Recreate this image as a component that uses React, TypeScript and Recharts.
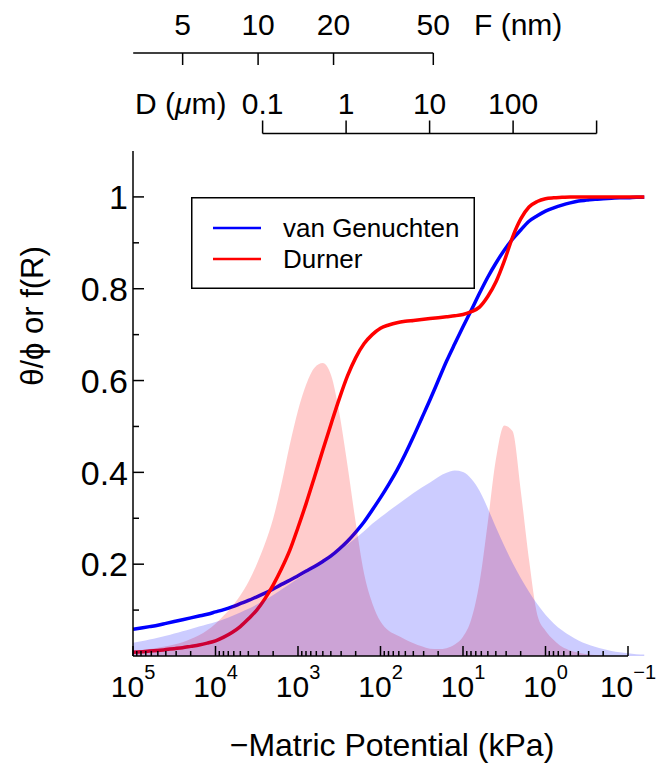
import React from 'react';
import { ComposedChart, Line, Area, XAxis, YAxis, ReferenceLine, Legend } from 'recharts';

const FONT = '"Liberation Sans", Arial, Helvetica, sans-serif';

// sample points: log10 of -matric potential (kPa)
const logPsi = [
  5, 4.9, 4.8, 4.7, 4.6, 4.5, 4.4, 4.3, 4.2, 4.1,
  4, 3.9, 3.8, 3.7, 3.6, 3.5, 3.4, 3.3, 3.2, 3.1,
  3, 2.9, 2.8, 2.7, 2.6, 2.5, 2.4, 2.3, 2.2, 2.1,
  2, 1.9, 1.8, 1.7, 1.6, 1.5, 1.4, 1.3, 1.2, 1.1,
  1, 0.9, 0.8, 0.7, 0.6, 0.5, 0.4, 0.3, 0.2, 0.1,
  0, -0.1, -0.2, -0.3, -0.4, -0.5, -0.6, -0.7, -0.8, -0.9,
  -1, -1.1, -1.2,
];

// retention curves theta/phi
const vgTheta = [
  0.058, 0.061, 0.064, 0.067, 0.071, 0.075, 0.079, 0.083, 0.087, 0.091,
  0.096, 0.101, 0.107, 0.114, 0.121, 0.129, 0.137, 0.146, 0.156, 0.165,
  0.175, 0.185, 0.195, 0.206, 0.218, 0.233, 0.25, 0.27, 0.292, 0.318,
  0.345, 0.374, 0.405, 0.44, 0.478, 0.518, 0.558, 0.6, 0.642, 0.68,
  0.717, 0.753, 0.79, 0.825, 0.856, 0.884, 0.908, 0.928, 0.947, 0.959,
  0.969, 0.976, 0.982, 0.987, 0.991, 0.993, 0.995, 0.996, 0.997, 0.998,
  0.998, 0.999, 0.999,
];
const durnerTheta = [
  0.008, 0.009, 0.011, 0.012, 0.014, 0.016, 0.018, 0.021, 0.024, 0.028,
  0.033, 0.041, 0.051, 0.064, 0.081, 0.1, 0.125, 0.155, 0.19, 0.23,
  0.28, 0.333, 0.39, 0.448, 0.505, 0.56, 0.61, 0.65, 0.68, 0.7,
  0.714, 0.721, 0.726, 0.729, 0.731, 0.733, 0.735, 0.737, 0.739, 0.741,
  0.744, 0.75, 0.76, 0.783, 0.815, 0.86, 0.912, 0.952, 0.978, 0.99,
  0.996, 0.998, 0.999, 1, 1, 1, 1, 1, 1, 1,
  1, 1, 1,
];

// pore size distributions f(R)
const vgPsd = [
  0.029, 0.032, 0.036, 0.04, 0.044, 0.049, 0.054, 0.059, 0.064, 0.069,
  0.074, 0.08, 0.087, 0.095, 0.103, 0.112, 0.122, 0.133, 0.145, 0.157,
  0.169, 0.181, 0.193, 0.205, 0.217, 0.23, 0.243, 0.257, 0.272, 0.288,
  0.302, 0.316, 0.329, 0.342, 0.355, 0.367, 0.378, 0.39, 0.399, 0.404,
  0.401, 0.386, 0.36, 0.322, 0.28, 0.24, 0.203, 0.17, 0.14, 0.113,
  0.09, 0.071, 0.056, 0.044, 0.034, 0.026, 0.02, 0.015, 0.011, 0.008,
  0.006, 0.004, 0.003,
];
const durnerPsd = [
  0.011, 0.013, 0.015, 0.018, 0.021, 0.025, 0.03, 0.037, 0.045, 0.056,
  0.07, 0.088, 0.108, 0.132, 0.162, 0.2, 0.245, 0.3, 0.375, 0.46,
  0.535, 0.592, 0.628, 0.638, 0.612, 0.53, 0.415, 0.29, 0.18, 0.115,
  0.075, 0.055, 0.045, 0.036, 0.028, 0.021, 0.016, 0.015, 0.017, 0.025,
  0.042, 0.08, 0.16, 0.29, 0.43, 0.502, 0.49, 0.36, 0.21, 0.09,
  0.055, 0.035, 0.02, 0.012, 0.007, 0.004, 0.002, 0.001, 0, 0,
  0, 0, 0,
];

const seriesNames = ['van Genuchten', 'Durner'];
const xMajor = [1e5, 1e4, 1e3, 1e2, 1e1, 1, 0.1];
const xExp = ['5', '4', '3', '2', '1', '0', '\u22121'];
const yMajor = [0.2, 0.4, 0.6, 0.8, 1];
const yLabels = ['0.2', '0.4', '0.6', '0.8', '1'];
const yMinor = [0.1, 0.3, 0.5, 0.7, 0.9];
const fTicks = [5, 10, 20, 50];
const dTicks = [0.1, 1, 10, 100, 1000];
const dLabels = ['0.1', '1', '10', '100', ''];

const data = logPsi.map((e, i) => ({
  psi: Math.pow(10, e),
  vg: vgTheta[i],
  durner: durnerTheta[i],
  vgPsd: vgPsd[i],
  durnerPsd: durnerPsd[i],
}));
const xMinor = xMajor.slice(1).flatMap((m) => [2, 3, 4, 5, 6, 7, 8, 9].map((k) => k * m));
const yTicks = [...yMinor, ...yMajor].sort((a, b) => a - b);

const XTick = (props: any) => {
  const { x, y, payload } = props;
  const i = xMajor.indexOf(payload.value);
  return (
    <g>
      <line x1={x} x2={x} y1={y} y2={y - (i >= 0 ? 10 : 5)} stroke="#000" strokeWidth={1.5} />
      {i >= 0 && (
        <text x={x} y={y + 41} textAnchor="middle" fontSize={30} fontFamily={FONT} fill="#000">
          10<tspan dy={-18} fontSize={20}>{xExp[i]}</tspan>
        </text>
      )}
    </g>
  );
};

const YTick = (props: any) => {
  const { x, y, payload } = props;
  const i = yMajor.indexOf(payload.value);
  return (
    <g>
      <line x1={x} x2={x + (i >= 0 ? 11 : 6)} y1={y} y2={y} stroke="#000" strokeWidth={1.5} />
      {i >= 0 && (
        <text x={x - 5} y={y} dy="0.36em" textAnchor="end" fontSize={34} fontFamily={FONT} fill="#000">
          {yLabels[i]}
        </text>
      )}
    </g>
  );
};

const FTick = (props: any) => {
  const { x, y, payload } = props;
  return (
    <g>
      <line x1={x} x2={x} y1={y} y2={y + 12} stroke="#000" strokeWidth={1.5} />
      <text x={x} y={y - 18} textAnchor="middle" fontSize={30} fontFamily={FONT} fill="#000">
        {payload.value}
      </text>
    </g>
  );
};

const DTick = (props: any) => {
  const { x, y, payload } = props;
  const i = dTicks.indexOf(payload.value);
  return (
    <g>
      <line x1={x} x2={x} y1={y} y2={y - 13} stroke="#000" strokeWidth={1.5} />
      <text x={x} y={y - 20} textAnchor="middle" fontSize={30} fontFamily={FONT} fill="#000">
        {dLabels[i]}
      </text>
    </g>
  );
};

const LegendBox = (props: any) => {
  const items = (props.payload || [])
    .filter((p: any) => seriesNames.includes(p.value))
    .sort((a: any, b: any) => seriesNames.indexOf(a.value) - seriesNames.indexOf(b.value));
  return (
    <svg width={284} height={92} style={{ display: 'block' }}>
      <rect x={0.75} y={0.75} width={282.5} height={90.5} fill="#fff" stroke="#000" strokeWidth={1.5} />
      {items.map((e: any, i: number) => (
        <g key={e.value}>
          <line x1={22} x2={70} y1={31 + i * 31} y2={31 + i * 31} stroke={e.color} strokeWidth={2.5} />
          <text x={92} y={31 + i * 31} dy="0.35em" fontSize={26} fontFamily={FONT} fill="#000">
            {e.value}
          </text>
        </g>
      ))}
    </svg>
  );
};

export default function App() {
  return (
    <div style={{ position: 'absolute', left: 0, top: 0, width: 656, height: 765, background: '#fff', fontFamily: FONT }}>
      <div style={{ position: 'absolute', left: 0, top: 0 }}>
        <ComposedChart width={656} height={765} data={data} margin={{ top: 151, right: 11.5, bottom: 69, left: 93 }}>
          <XAxis
            dataKey="psi"
            type="number"
            scale="log"
            domain={[Math.pow(10, -1.2), 1e5]}
            reversed
            allowDataOverflow
            ticks={[...xMajor, ...xMinor]}
            interval={0}
            tick={(p: any) => <XTick {...p} />}
            tickSize={0}
            tickMargin={0}
            tickLine={false}
            axisLine={false}
            height={40}
            label={() => (
              <text x={392} y={756} textAnchor="middle" fontSize={32} fontFamily={FONT} fill="#000">
                {'\u2212Matric Potential (kPa)'}
              </text>
            )}
          />
          <YAxis
            type="number"
            domain={[0, 1.1]}
            allowDataOverflow
            ticks={yTicks}
            interval={0}
            tick={(p: any) => <YTick {...p} />}
            tickSize={0}
            tickMargin={0}
            tickLine={false}
            axisLine={{ stroke: '#000', strokeWidth: 1.5 }}
            width={40}
            label={() => (
              <text
                x={32}
                y={316}
                transform="rotate(-90 32 316)"
                textAnchor="middle"
                dominantBaseline="central"
                fontSize={31}
                fontFamily={FONT}
                fill="#000"
              >
                {'\u03b8/\u03d5 or f(R)'}
              </text>
            )}
          />
          <Line type="monotone" dataKey="vg" name="van Genuchten" stroke="#0000ff" strokeWidth={3.5} dot={false} isAnimationActive={false} zIndex={300} />
          <Line type="monotone" dataKey="durner" name="Durner" stroke="#ff0000" strokeWidth={3.5} dot={false} isAnimationActive={false} zIndex={300} />
          <Area type="monotone" dataKey="durnerPsd" fill="#ff0000" fillOpacity={0.2} stroke="none" legendType="none" isAnimationActive={false} zIndex={410} />
          <Area type="monotone" dataKey="vgPsd" fill="#0000ff" fillOpacity={0.2} stroke="none" legendType="none" isAnimationActive={false} zIndex={420} />
          <ReferenceLine segment={[{ x: 1e5, y: 0 }, { x: 0.1, y: 0 }]} stroke="#000" strokeWidth={1.5} ifOverflow="visible" zIndex={600} />
          <Legend
            layout="horizontal"
            align="center"
            verticalAlign="middle"
            content={(p: any) => <LegendBox {...p} />}
            wrapperStyle={{ left: 190.7, top: 196.7, width: 284, height: 92 }}
          />
        </ComposedChart>
      </div>

      <div style={{ position: 'absolute', left: 0, top: 0 }}>
        <ComposedChart width={656} height={100} data={fTicks.map((v) => ({ f: v }))} margin={{ top: 23, right: 222.7, bottom: 10, left: 133.2 }}>
          <XAxis
            dataKey="f"
            type="number"
            scale="log"
            domain={[3.175, 50]}
            allowDataOverflow
            orientation="top"
            ticks={fTicks}
            interval={0}
            tick={(p: any) => <FTick {...p} />}
            tickSize={0}
            tickMargin={0}
            tickLine={false}
            axisLine={{ stroke: '#000', strokeWidth: 1.5 }}
            height={30}
            label={() => (
              <text x={474} y={35} fontSize={30} fontFamily={FONT} fill="#000">
                F (nm)
              </text>
            )}
          />
          <YAxis hide />
        </ComposedChart>
      </div>

      <div style={{ position: 'absolute', left: 0, top: 0 }}>
        <ComposedChart width={656} height={150} data={dTicks.map((v) => ({ d: v }))} margin={{ top: 103.5, right: 59.4, bottom: 6, left: 262.6 }}>
          <XAxis
            dataKey="d"
            type="number"
            scale="log"
            domain={[0.1, 1000]}
            allowDataOverflow
            orientation="top"
            ticks={dTicks}
            interval={0}
            tick={(p: any) => <DTick {...p} />}
            tickSize={0}
            tickMargin={0}
            tickLine={false}
            axisLine={{ stroke: '#000', strokeWidth: 1.5 }}
            height={30}
            label={() => (
              <text x={135} y={113.5} fontSize={30} fontFamily={FONT} fill="#000">
                D (<tspan fontStyle="italic">{'\u03bc'}</tspan>m)
              </text>
            )}
          />
          <YAxis hide />
        </ComposedChart>
      </div>
    </div>
  );
}
